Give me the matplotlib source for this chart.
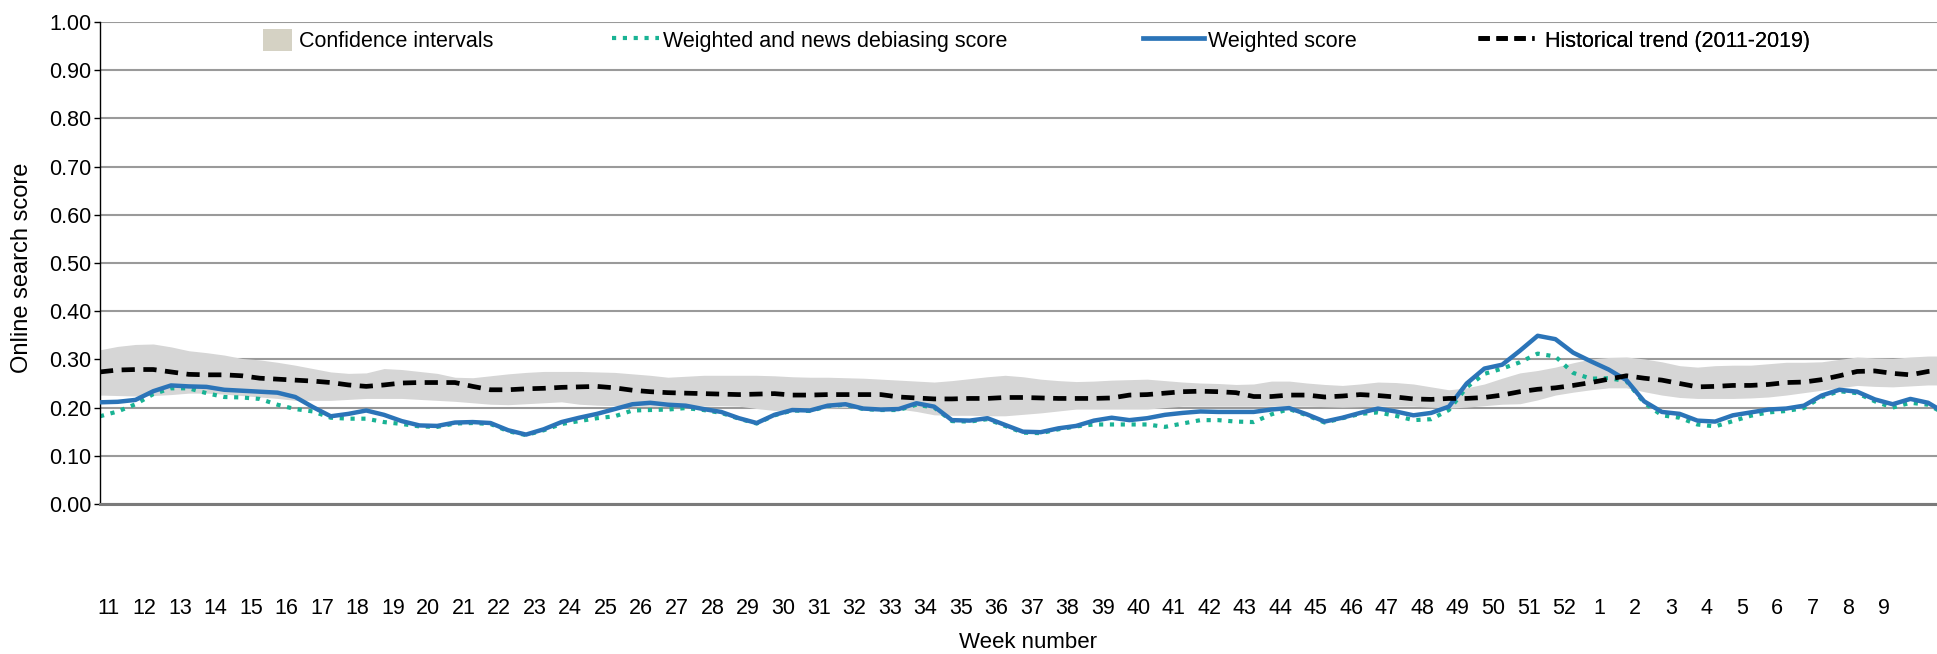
import numpy as np
import matplotlib
matplotlib.use("Agg")
import matplotlib.pyplot as plt
from matplotlib import font_manager
from matplotlib.patches import Patch
from matplotlib.lines import Line2D

# use a narrow face if the machine has one
try:
    font_manager.findfont('Liberation Sans Narrow', fallback_to_default=False)
    narrow = True
    plt.rcParams['font.family'] = ['Liberation Sans Narrow', 'DejaVu Sans']
except ValueError:
    narrow = False
    plt.rcParams['font.family'] = ['Liberation Sans', 'DejaVu Sans']

fs = 18 if narrow else 15.5

# week labels on the x axis (week 11 of one year to week 9 of the next)
week_labels = [str(w) for w in list(range(11, 53)) + list(range(1, 10))]

# sample positions, in weeks after the first label (half-week steps)
week_pos = np.arange(-0.25, 51.76, 0.5)

weighted = [
    0.211, 0.212, 0.216, 0.234, 0.246, 0.244, 0.243, 0.237, 0.235, 0.233,
    0.231, 0.222, 0.201, 0.182, 0.187, 0.194, 0.185, 0.172, 0.163, 0.162,
    0.169, 0.170, 0.168, 0.153, 0.144, 0.155, 0.170, 0.179, 0.187, 0.197,
    0.207, 0.210, 0.206, 0.204, 0.197, 0.191, 0.178, 0.168, 0.185, 0.195,
    0.194, 0.204, 0.207, 0.198, 0.196, 0.197, 0.209, 0.202, 0.174, 0.173,
    0.178, 0.164, 0.150, 0.149, 0.157, 0.162, 0.173, 0.179, 0.174, 0.178,
    0.185, 0.189, 0.192, 0.191, 0.191, 0.191, 0.196, 0.199, 0.186, 0.171,
    0.179, 0.189, 0.198, 0.192, 0.184, 0.189, 0.202, 0.250, 0.281, 0.289,
    0.318, 0.349, 0.342, 0.314, 0.296, 0.279, 0.257, 0.213, 0.191, 0.187,
    0.173, 0.171, 0.184, 0.190, 0.196, 0.198, 0.204, 0.225, 0.237, 0.233,
    0.217, 0.207, 0.218, 0.210, 0.188,
]

debiased = [
    0.182, 0.192, 0.207, 0.228, 0.240, 0.240, 0.230, 0.222, 0.221, 0.218,
    0.206, 0.197, 0.192, 0.179, 0.177, 0.177, 0.170, 0.166, 0.161, 0.160,
    0.167, 0.168, 0.166, 0.151, 0.143, 0.153, 0.166, 0.172, 0.178, 0.182,
    0.194, 0.195, 0.196, 0.199, 0.195, 0.189, 0.177, 0.167, 0.184, 0.194,
    0.193, 0.203, 0.206, 0.197, 0.195, 0.195, 0.206, 0.200, 0.172, 0.171,
    0.176, 0.162, 0.148, 0.147, 0.155, 0.161, 0.165, 0.165, 0.165, 0.165,
    0.160, 0.167, 0.174, 0.174, 0.171, 0.170, 0.186, 0.197, 0.184, 0.169,
    0.178, 0.187, 0.190, 0.183, 0.174, 0.176, 0.195, 0.242, 0.270, 0.281,
    0.294, 0.312, 0.306, 0.272, 0.260, 0.261, 0.255, 0.210, 0.184, 0.179,
    0.165, 0.161, 0.172, 0.183, 0.190, 0.193, 0.199, 0.222, 0.234, 0.230,
    0.213, 0.200, 0.210, 0.206, 0.186,
]

historical = [
    0.274, 0.278, 0.279, 0.279, 0.274, 0.269, 0.268, 0.268, 0.266, 0.261,
    0.259, 0.257, 0.255, 0.252, 0.247, 0.244, 0.247, 0.251, 0.252, 0.252,
    0.252, 0.244, 0.237, 0.237, 0.239, 0.240, 0.242, 0.243, 0.244, 0.241,
    0.236, 0.233, 0.231, 0.230, 0.229, 0.228, 0.227, 0.228, 0.229, 0.226,
    0.226, 0.227, 0.227, 0.227, 0.227, 0.222, 0.220, 0.218, 0.218, 0.219,
    0.219, 0.221, 0.221, 0.220, 0.219, 0.219, 0.219, 0.220, 0.226, 0.227,
    0.230, 0.233, 0.234, 0.233, 0.231, 0.223, 0.223, 0.226, 0.226, 0.222,
    0.224, 0.227, 0.225, 0.222, 0.218, 0.217, 0.219, 0.219, 0.221, 0.226,
    0.233, 0.238, 0.241, 0.246, 0.252, 0.259, 0.266, 0.261, 0.257, 0.250,
    0.243, 0.244, 0.246, 0.246, 0.248, 0.252, 0.253, 0.258, 0.266, 0.275,
    0.276, 0.271, 0.268, 0.275, 0.278,
]

ci_upper = [
    0.320, 0.327, 0.331, 0.332, 0.326, 0.318, 0.314, 0.309, 0.302, 0.299,
    0.294, 0.288, 0.281, 0.274, 0.271, 0.272, 0.281, 0.279, 0.275, 0.271,
    0.263, 0.262, 0.266, 0.270, 0.273, 0.275, 0.275, 0.275, 0.274, 0.273,
    0.270, 0.267, 0.263, 0.265, 0.267, 0.267, 0.267, 0.267, 0.266, 0.264,
    0.263, 0.263, 0.262, 0.261, 0.259, 0.257, 0.255, 0.253, 0.256, 0.260,
    0.264, 0.267, 0.264, 0.259, 0.256, 0.254, 0.255, 0.257, 0.258, 0.259,
    0.256, 0.253, 0.251, 0.250, 0.248, 0.249, 0.255, 0.255, 0.251, 0.248,
    0.246, 0.249, 0.253, 0.252, 0.249, 0.243, 0.237, 0.241, 0.249, 0.261,
    0.272, 0.277, 0.284, 0.293, 0.301, 0.304, 0.305, 0.301, 0.295, 0.287,
    0.284, 0.287, 0.288, 0.288, 0.291, 0.294, 0.294, 0.295, 0.300, 0.305,
    0.303, 0.302, 0.305, 0.307, 0.307,
]

ci_lower = [
    0.226, 0.225, 0.224, 0.225, 0.227, 0.230, 0.230, 0.228, 0.225, 0.222,
    0.219, 0.215, 0.215, 0.215, 0.217, 0.219, 0.219, 0.219, 0.217, 0.215,
    0.213, 0.210, 0.207, 0.206, 0.208, 0.210, 0.212, 0.207, 0.205, 0.204,
    0.203, 0.203, 0.203, 0.203, 0.203, 0.204, 0.203, 0.198, 0.194, 0.195,
    0.197, 0.199, 0.200, 0.200, 0.199, 0.197, 0.192, 0.185, 0.184, 0.184,
    0.183, 0.183, 0.186, 0.189, 0.193, 0.197, 0.197, 0.197, 0.197, 0.197,
    0.200, 0.203, 0.203, 0.203, 0.203, 0.203, 0.203, 0.203, 0.203, 0.202,
    0.201, 0.202, 0.203, 0.203, 0.203, 0.201, 0.199, 0.201, 0.204, 0.207,
    0.208, 0.216, 0.226, 0.232, 0.237, 0.241, 0.241, 0.233, 0.226, 0.221,
    0.219, 0.219, 0.219, 0.220, 0.222, 0.226, 0.231, 0.236, 0.241, 0.246,
    0.244, 0.243, 0.245, 0.247, 0.247,
]

blue = '#2b74b8'
green = '#19b394'

fig = plt.figure(figsize=(19.37, 6.54), dpi=100)
ax = fig.add_axes([100 / 1937, 1 - 504 / 654, 1837 / 1937, 482 / 654])

ax.fill_between(week_pos, ci_lower, ci_upper, color='#d6d6d6', lw=0, zorder=1)
ax.plot(week_pos, debiased, color=green, lw=3.0, linestyle=(0, (1, 1.6)), zorder=2)
ax.plot(week_pos, weighted, color=blue, lw=3.2, zorder=3)
ax.plot(week_pos, historical, color='black', lw=3.4, linestyle=(0, (2.8, 1.8)), zorder=4)

ax.set_xlim(-0.25, 51.5)
ax.set_ylim(0, 1)

# horizontal gridlines
ax.set_yticks(np.arange(0, 1.01, 0.1))
ax.yaxis.set_major_formatter(matplotlib.ticker.FormatStrFormatter('%.2f'))
ax.grid(axis='y', color='#9a9a9a', lw=1.5, zorder=0)
ax.set_axisbelow(True)
for s in ['top', 'right']:
    ax.spines[s].set_visible(False)
ax.spines['left'].set_color('black')
ax.spines['left'].set_linewidth(1.0)
ax.spines['bottom'].set_color('#7a7a7a')
ax.spines['bottom'].set_linewidth(2.2)

ax.set_xticks(np.arange(len(week_labels)))
ax.set_xticklabels(week_labels)
ax.tick_params(axis='x', length=0, pad=68, labelsize=fs)
ax.tick_params(axis='y', length=4, width=1, pad=2, labelsize=fs, direction='out')

ax.set_ylabel('Online search score', fontsize=fs + 1.5)
ax.yaxis.label.set_va('center')
ax.yaxis.set_label_coords(-0.0425, 0.49)
ax.set_xlabel('Week number', fontsize=fs + 0.5)
ax.xaxis.label.set_va('center')
ax.xaxis.set_label_coords(0.505, -0.288)

# legend entries, spread along the top like the original
entries = [
    (Patch(facecolor='#d5d2c4', edgecolor='none'), 'Confidence intervals', (263 - 100) / 1837, 1.35, 0.3),
    (Line2D([], [], color=green, lw=3.0, linestyle=(0, (1, 1.6))), 'Weighted and news debiasing score', (612 - 100) / 1837, 2.2, 0.15),
    (Line2D([], [], color=blue, lw=3.4), 'Weighted score', (1143 - 100) / 1837, 2.85, 0.15),
    (Line2D([], [], color='black', lw=3.4, linestyle=(0, (2.4, 1.4))), 'Historical trend (2011-2019)', (1478 - 100) / 1837, 2.6, 0.5),
]
for handle, label, xpos, hl, tp in entries:
    leg = ax.legend([handle], [label], loc='center left', bbox_to_anchor=(xpos, 0.962),
                    frameon=False, fontsize=fs, handlelength=hl * 15.5 / fs, handleheight=1.25,
                    handletextpad=tp, borderpad=0, borderaxespad=0)
    ax.add_artist(leg)

fig.savefig('out.png', dpi=100)
